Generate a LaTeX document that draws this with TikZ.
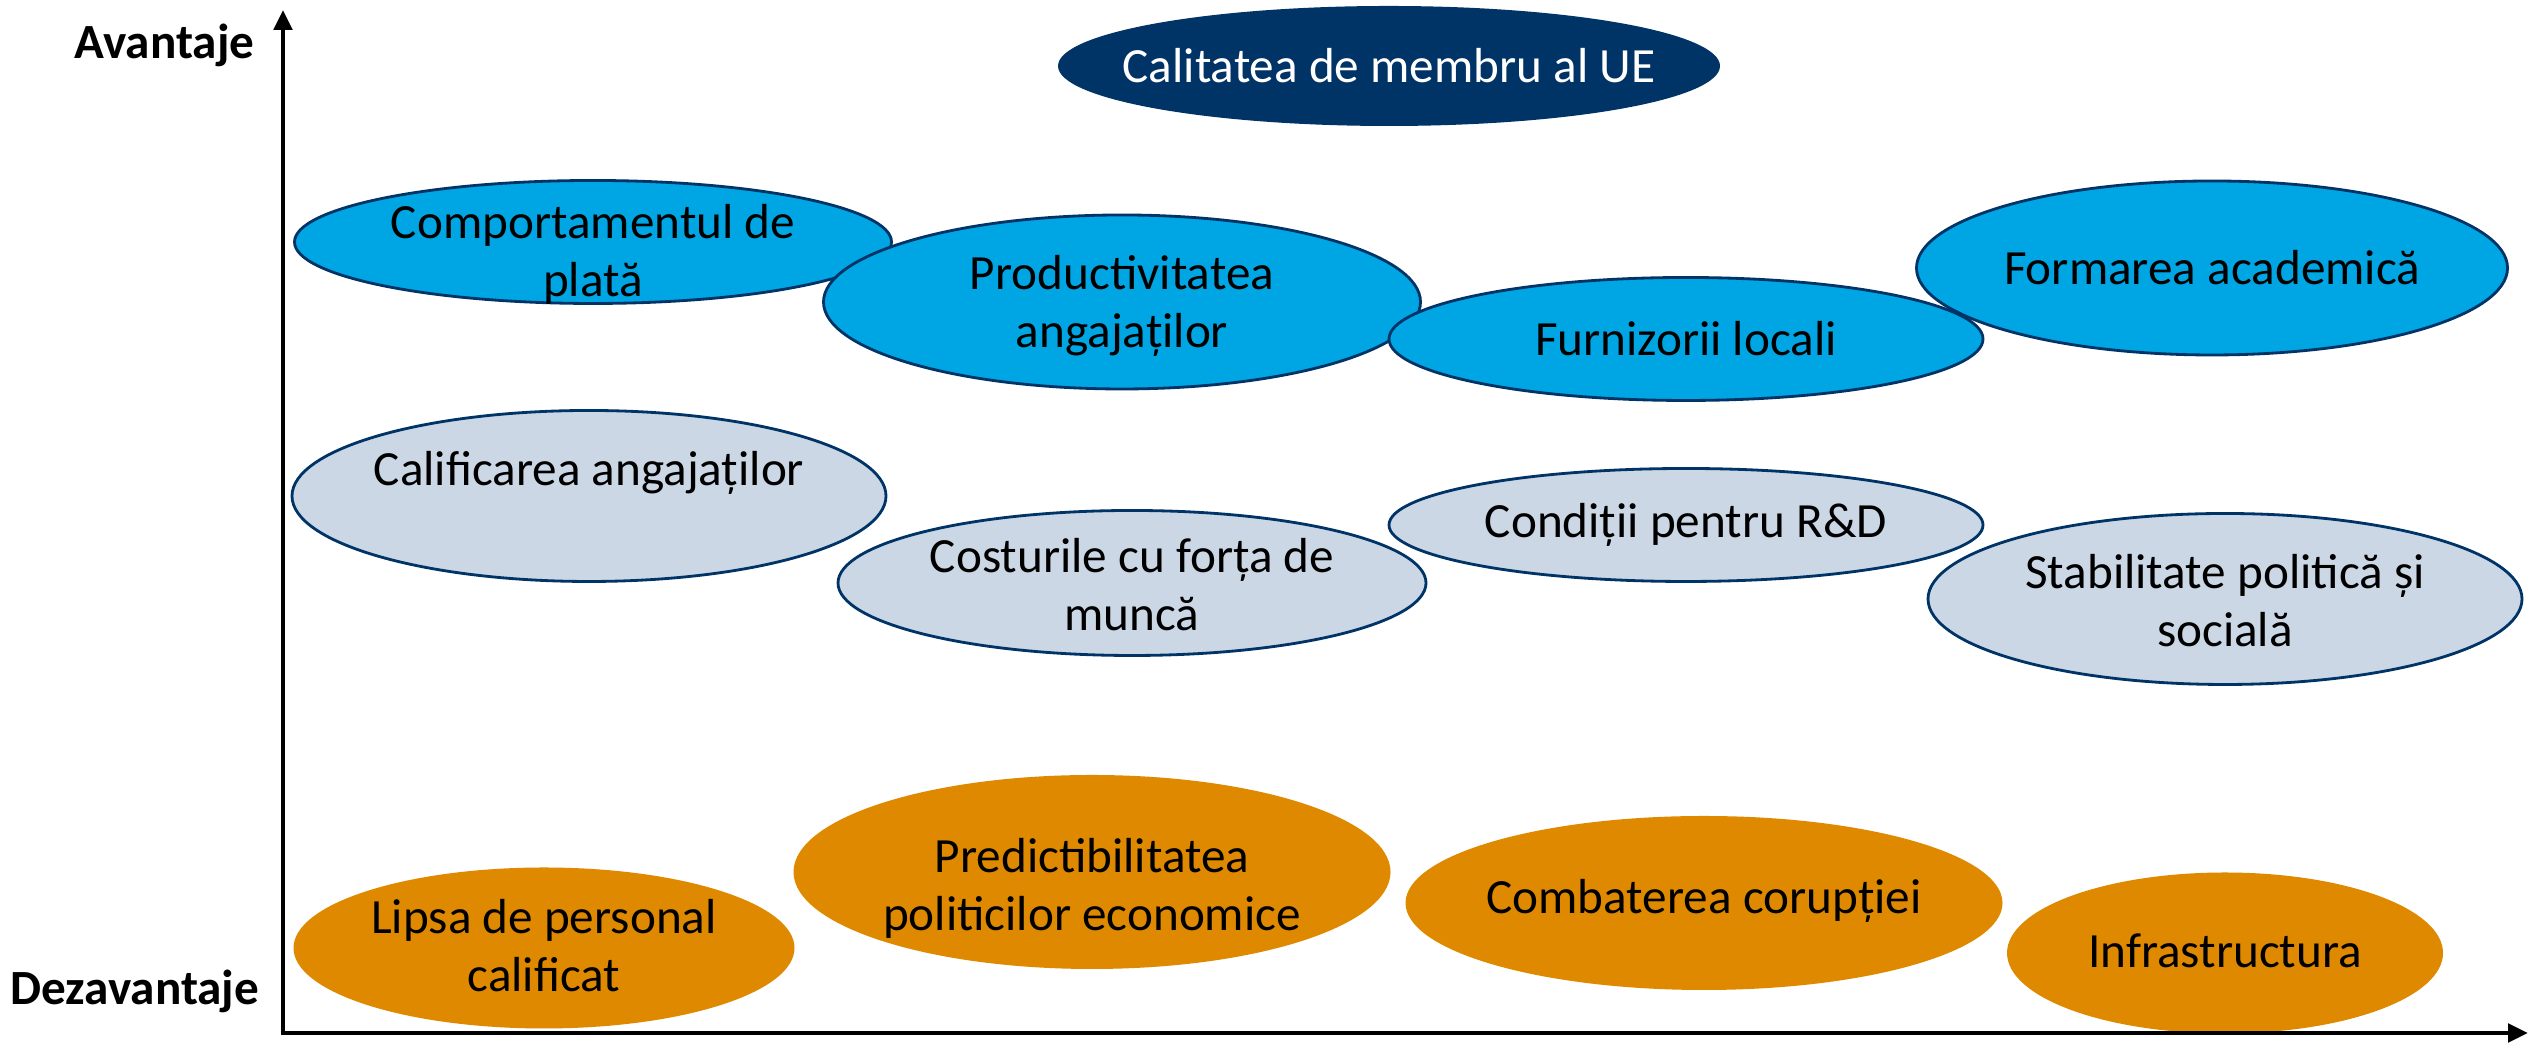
\documentclass[tikz,border=0pt]{standalone}
\usepackage{fontspec}
\setmainfont{Carlito}
\usetikzlibrary{arrows.meta}
\definecolor{uenavy}{RGB}{0,51,102}
\definecolor{advblue}{RGB}{0,165,227}
\definecolor{midgray}{RGB}{203,215,229}
\definecolor{disorange}{RGB}{222,137,0}

\begin{document}
\begin{tikzpicture}[
  axis/.style={line width=1.4pt, -{Triangle[length=2mm,width=1.8mm]}},
  navyell/.style={fill=uenavy, draw=none},
  blueell/.style={fill=advblue, draw=uenavy, line width=0.8pt},
  grayell/.style={fill=midgray, draw=uenavy, line width=0.8pt},
  orangeell/.style={fill=disorange, draw=none},
  lbl/.style={align=center, font=\fontsize{14}{16.5}\selectfont},
  side/.style={anchor=east, inner sep=0pt, font=\fontsize{14}{17}\selectfont\bfseries}]
\useasboundingbox (0,0) rectangle (25.32,10.49);

% Top ellipse
\path[navyell] (13.89,9.83) ellipse (3.31 and 0.6);

% Advantages
\draw[blueell] (22.12,7.81) ellipse (2.955 and 0.87);
\draw[blueell] (5.93,8.07) ellipse (2.985 and 0.615);
\draw[blueell] (11.22,7.47) ellipse (2.985 and 0.87);
\draw[blueell] (16.86,7.10) ellipse (2.97 and 0.615);

% Middle row
\draw[grayell] (5.89,5.53) ellipse (2.97 and 0.855);
\draw[grayell] (11.32,4.66) ellipse (2.94 and 0.725);
\draw[grayell] (16.86,5.24) ellipse (2.97 and 0.565);
\draw[grayell] (22.25,4.50) ellipse (2.97 and 0.855);

% Disadvantages
\path[orangeell] (5.44,1.01) ellipse (2.505 and 0.805);
\path[orangeell] (10.92,1.77) ellipse (2.985 and 0.97);
\path[orangeell] (17.04,1.46) ellipse (2.985 and 0.87);
\path[orangeell] (22.25,0.96) ellipse (2.18 and 0.805);

% Labels
\node[lbl, text=white] (ue) at (13.89,9.83) {Calitatea de membru al UE};
\node[lbl] (plata) at (5.93,7.95) {Comportamentul de\\plată};
\node[lbl] (prod) at (11.22,7.43) {Productivitatea\\angajaților};
\node[lbl] (furn) at (16.86,7.10) {Furnizorii locali};
\node[lbl] (acad) at (22.12,7.81) {Formarea academică};
\node[lbl] (calif) at (5.89,5.76) {Calificarea angajaților};
\node[lbl] (cost) at (11.32,4.64) {Costurile cu forța de\\muncă};
\node[lbl] (rd) at (16.86,5.24) {Condiții pentru R\&D};
\node[lbl] (stab) at (22.25,4.48) {Stabilitate politică și\\socială};
\node[lbl] (lipsa) at (5.44,1.03) {Lipsa de personal\\calificat};
\node[lbl] (pred) at (10.92,1.61) {Predictibilitatea\\politicilor economice};
\node[lbl] (coruptie) at (17.04,1.48) {Combaterea corupției};
\node[lbl] (infra) at (22.25,0.98) {Infrastructura};

% Axes
\coordinate (origin) at (2.83,0.16);
\coordinate (ytop) at (2.83,10.39);
\coordinate (xend) at (25.28,0.16);
\draw[axis] (origin) -- (ytop);
\draw[axis] ([xshift=-0.7pt]origin) -- (xend);
\node[side] (avantaj) at (2.55,10.04) {Avantaje};
\node[side] (dezavantaj) at (2.60,0.58) {Dezavantaje};
\end{tikzpicture}
\end{document}
